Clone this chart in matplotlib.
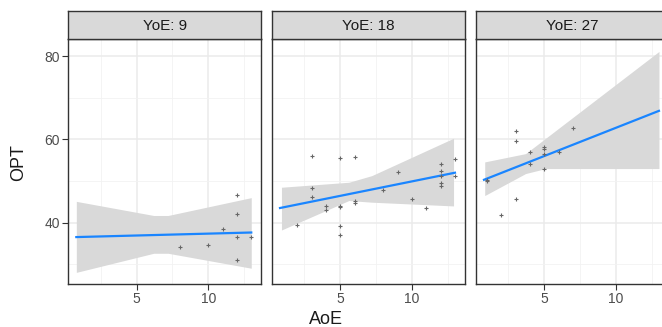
import matplotlib
matplotlib.use("Agg")
import matplotlib.pyplot as plt
from matplotlib.ticker import FixedLocator

plt.rcParams["font.family"] = ["Liberation Sans", "DejaVu Sans"]

# --- data ---
panel_titles = ["YoE: 9", "YoE: 18", "YoE: 27"]

aoe_9 = [8, 10, 11, 12, 12, 12, 12, 13]
opt_9 = [34.1, 34.6, 38.4, 46.7, 42.0, 36.6, 30.9, 36.4]

aoe_18 = [2, 3, 3, 3, 4, 4, 5, 5, 5, 5, 5, 6, 6, 6, 8, 9, 10, 11,
          12, 12, 12, 12, 12, 13, 13]
opt_18 = [39.4, 56.1, 48.3, 46.2, 44.0, 43.1, 55.6, 44.1, 43.7, 39.2, 36.9,
          55.9, 45.3, 44.7, 47.9, 52.2, 45.6, 43.4, 54.1, 52.4, 51.2, 49.6,
          48.7, 55.3, 51.3]

aoe_27 = [1, 1, 2, 3, 3, 3, 4, 4, 5, 5, 5, 5, 6, 7]
opt_27 = [50.3, 50.0, 41.7, 62.0, 59.7, 45.6, 57.1, 54.0, 58.2, 57.8, 56.6,
          52.8, 56.9, 62.8]

# fitted line and confidence band
fit_x = [0.8, 13.0]
fit_9 = [36.5, 37.6]
fit_18 = [43.5, 52.0]
fit_27 = [50.3, 66.9]

band_x_9 = [0.8, 6.2, 7.2, 13.0]
band_hi_9 = [45.1, 41.7, 41.7, 46.0]
band_lo_9 = [28.0, 32.6, 32.6, 29.0]

band_x_18 = [0.9, 5.6, 7.2, 12.9]
band_hi_18 = [48.5, 49.7, 51.3, 60.3]
band_lo_18 = [38.2, 45.3, 44.9, 44.0]

band_x_27 = [0.85, 3.7, 5.1, 13.0]
band_hi_27 = [54.6, 56.6, 60.3, 81.2]
band_lo_27 = [46.5, 51.8, 53.0, 53.0]

panels = [
    (aoe_9, opt_9, fit_9, band_x_9, band_hi_9, band_lo_9),
    (aoe_18, opt_18, fit_18, band_x_18, band_hi_18, band_lo_18),
    (aoe_27, opt_27, fit_27, band_x_27, band_hi_27, band_lo_27),
]

W, H = 662, 327
fig = plt.figure(figsize=(W / 100, H / 100), dpi=100)

lefts = [68, 271.7, 475.7]
pw = 193.3
top_strip, top_plot, bottom_plot = 11, 39, 284
border = "#333333"

for i, (xs, ys, fit, bx, bhi, blo) in enumerate(panels):
    left = lefts[i] / W
    ax = fig.add_axes([left, (H - bottom_plot) / H, pw / W, (bottom_plot - top_plot) / H])
    ax.set_xlim(0.22, 13.7)
    ax.set_ylim(25.2, 84.2)

    ax.xaxis.set_major_locator(FixedLocator([5, 10]))
    ax.xaxis.set_minor_locator(FixedLocator([2.5, 7.5, 12.5]))
    ax.yaxis.set_major_locator(FixedLocator([40, 60, 80]))
    ax.yaxis.set_minor_locator(FixedLocator([30, 50, 70]))
    ax.grid(which="major", color="#EBEBEB", lw=1.1)
    ax.grid(which="minor", color="#F2F2F2", lw=0.6)
    ax.set_axisbelow(True)

    ax.fill_between(bx, blo, bhi, color="#D9D9D9", lw=0, zorder=2)
    ax.plot(fit_x, fit, color="#1A85FF", lw=1.6, zorder=3)
    ax.plot(xs, ys, ls="none", marker="+", ms=3.5, mew=0.8, color="#666666", zorder=4)

    for s in ax.spines.values():
        s.set_color(border)
        s.set_linewidth(1.0)
    ax.tick_params(which="major", length=4, width=0.8, color=border,
                   labelsize=10, labelcolor="#4D4D4D", pad=2)
    ax.tick_params(which="minor", length=0)
    if i > 0:
        ax.tick_params(axis="y", which="major", labelleft=False, length=0)

    # facet strip
    sa = fig.add_axes([left, (H - top_plot) / H, pw / W, (top_plot - top_strip) / H])
    sa.set_facecolor("#D9D9D9")
    sa.set_xticks([])
    sa.set_yticks([])
    for s in sa.spines.values():
        s.set_color(border)
        s.set_linewidth(1.0)
    sa.text(0.5, 0.47, panel_titles[i], ha="center", va="center",
            fontsize=11, color="#1A1A1A", transform=sa.transAxes)

fig.text(326 / W, 1 - 319 / H, "AoE", ha="center", va="center", fontsize=13, color="#1A1A1A")
fig.text(19 / W, 1 - 163 / H, "OPT", ha="center", va="center", rotation=90,
         fontsize=13, color="#1A1A1A")

fig.savefig("out.png", dpi=100)
